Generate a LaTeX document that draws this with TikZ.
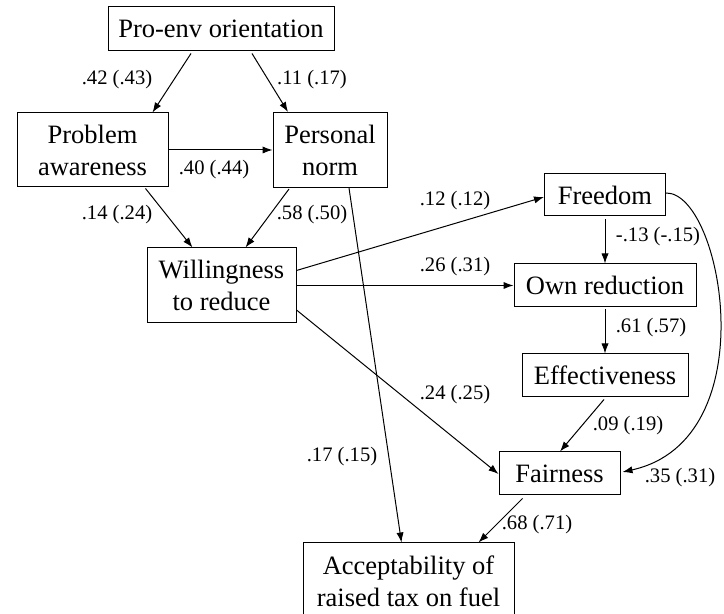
\documentclass[tikz,border=0pt]{standalone}
\usepackage{fontspec}
\setmainfont{Liberation Serif}
\usetikzlibrary{arrows.meta,calc}
\begin{document}
\begin{tikzpicture}[x=0.5pt,y=-0.5pt,
  box/.style={draw,line width=0.5pt,inner sep=0pt,align=center,font=\fontsize{13.25}{16}\selectfont},
  lbl/.style={inner sep=0pt,font=\fontsize{10.3}{12}\selectfont},
  arr/.style={line width=0.5pt,-{Latex[length=5pt,width=3.6pt]}}]
\useasboundingbox (0,0) rectangle (724,614);
% nodes
\node[box,minimum width=113pt,minimum height=22pt] (pe) at (221,29) {Pro-env orientation};
\node[box,minimum width=75.5pt,minimum height=37pt] (pa) at (92.5,150) {Problem\\awareness};
\node[box,minimum width=57pt,minimum height=37.5pt] (pn) at (330,150) {Personal\\norm};
\node[box,minimum width=74.5pt,minimum height=37.5pt] (w) at (221.5,285.5) {Willingness\\to reduce};
\node[box,minimum width=60.5pt,minimum height=21pt] (fr) at (605,195) {Freedom};
\node[box,minimum width=91pt,minimum height=21.5pt] (own) at (605,285.5) {Own reduction};
\node[box,minimum width=83pt,minimum height=21.5pt] (eff) at (605,375.5) {Effectiveness};
\node[box,minimum width=60.5pt,minimum height=21.5pt] (fa) at (559.5,473.5) {Fairness};
\node[box,minimum width=105.5pt,minimum height=38pt] (acc) at (408.5,581) {Acceptability of\\raised tax on fuel};
% connectors
\draw[arr] ($(pe.south)+(-30,2)$) -- ($(pa.north)+(60,0)$);
\draw[arr] ($(pe.south)+(31,2)$) -- ($(pn.north)+(-42,0)$);
\draw[arr] (pa.east) -- (pn.west);
\draw[arr] ($(pa.south)+(53,1)$) -- ($(w.north)+(-29,0)$);
\draw[arr] ($(pn.south)+(-41,1)$) -- ($(w.north)+(24,0)$);
\draw[arr] ($(pn.south)+(19,0)$) -- ($(acc.north)+(-7,0)$);
\draw[arr] ($(w.east)+(0,-15)$) -- ($(fr.west)+(0,2)$);
\draw[arr] (w.east) -- (own.west);
\draw[arr] ($(w.east)+(0,24.5)$) -- ($(fa.west)+(0,0.5)$);
\draw[arr] ($(fr.south)+(0,3)$) -- (own.north);
\draw[arr] ($(own.south)+(0,2)$) -- (eff.north);
\draw[arr] ($(eff.south)+(-1,2)$) -- ($(fa.north)+(0.5,0)$);
\draw[arr] ($(fa.south)+(-37,3)$) -- ($(acc.north)+(70,0)$);
\draw[arr] ($(fr.east)+(0,-2)$) .. controls (722,192) and (768,440) .. ($(fa.east)+(2,-1.5)$);
% labels
\node[lbl] (l1) at (117,80) {.42 (.43)};
\node[lbl] (l2) at (312,80) {.11 (.17)};
\node[lbl] (l3) at (214,170) {.40 (.44)};
\node[lbl] (l4) at (117,215) {.14 (.24)};
\node[lbl] (l5) at (312,215) {.58 (.50)};
\node[lbl] (l6) at (455,201) {.12 (.12)};
\node[lbl] (l7) at (658,237) {-.13 (-.15)};
\node[lbl] (l8) at (455,267) {.26 (.31)};
\node[lbl] (l9) at (651,328) {.61 (.57)};
\node[lbl] (l10) at (455,395) {.24 (.25)};
\node[lbl] (l11) at (628,426) {.09 (.19)};
\node[lbl] (l12) at (342,457) {.17 (.15)};
\node[lbl] (l13) at (680,478) {.35 (.31)};
\node[lbl] (l14) at (537,525) {.68 (.71)};
\end{tikzpicture}
\end{document}
